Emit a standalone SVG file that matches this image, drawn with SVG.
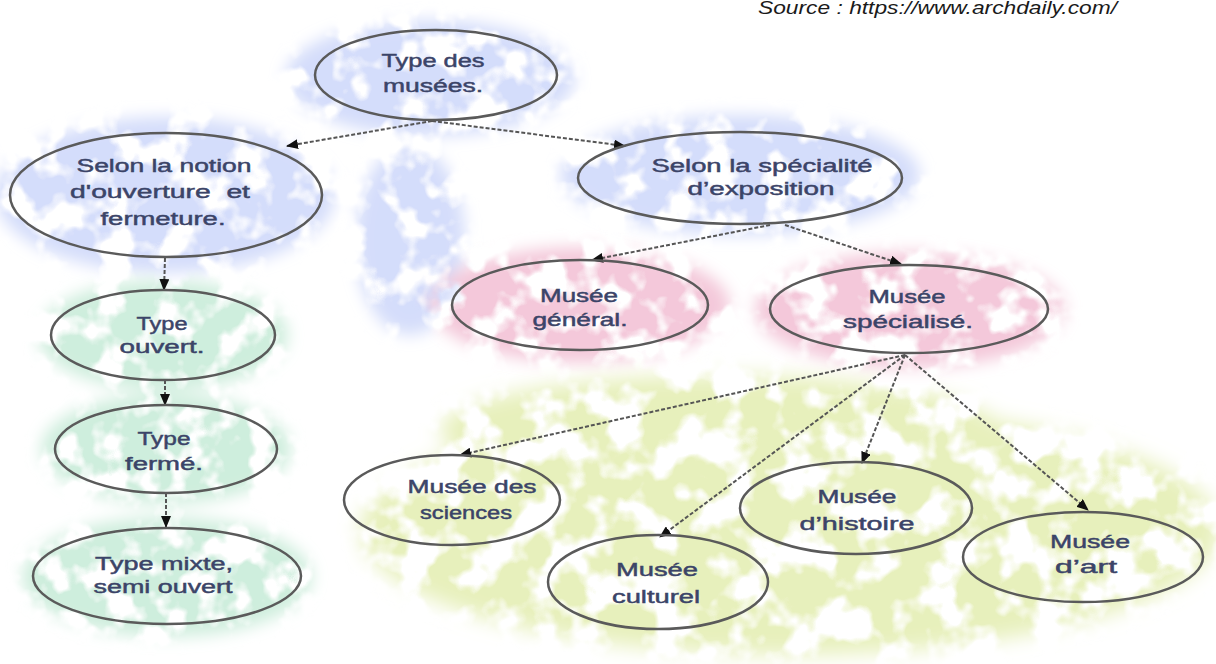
<svg xmlns="http://www.w3.org/2000/svg" width="1216" height="664" viewBox="0 0 1216 664">
<style>
.node{fill:none;stroke:#5a5a5a;stroke-width:2.5}
.t{font-family:"Liberation Sans",Arial,sans-serif;font-size:18px;fill:#3b4468;stroke:#3b4468;stroke-width:0.45;text-anchor:middle}
.c{fill:none;stroke:#555;stroke-width:2;stroke-dasharray:4 2;marker-end:url(#ah)}
.src{font-family:"Liberation Sans",Arial,sans-serif;font-size:18px;font-style:italic;fill:#1a1a1a}
</style>
<defs>
<marker id="ah" markerUnits="userSpaceOnUse" markerWidth="12" markerHeight="10" refX="11" refY="5" orient="auto">
<path d="M0,0 L12,5 L0,10 z" fill="#111"/>
</marker>
<filter id="fb" filterUnits="userSpaceOnUse" x="0" y="0" width="1216" height="664">
<feGaussianBlur in="SourceGraphic" stdDeviation="8" result="s"/>
<feTurbulence type="fractalNoise" baseFrequency="0.03" numOctaves="3" seed="4" result="n"/>
<feColorMatrix in="n" type="matrix" values="0 0 0 0 0.66  0 0 0 0 0.72  0 0 0 0 0.96  6 0 0 0 -2.2" result="c"/>
<feComposite in="c" in2="s" operator="in"/>
</filter>
<filter id="fp" filterUnits="userSpaceOnUse" x="0" y="0" width="1216" height="664">
<feGaussianBlur in="SourceGraphic" stdDeviation="8" result="s"/>
<feTurbulence type="fractalNoise" baseFrequency="0.03" numOctaves="3" seed="7" result="n"/>
<feColorMatrix in="n" type="matrix" values="0 0 0 0 0.90  0 0 0 0 0.58  0 0 0 0 0.70  6 0 0 0 -2.2" result="c"/>
<feComposite in="c" in2="s" operator="in"/>
</filter>
<filter id="fm" filterUnits="userSpaceOnUse" x="0" y="0" width="1216" height="664">
<feGaussianBlur in="SourceGraphic" stdDeviation="8" result="s"/>
<feTurbulence type="fractalNoise" baseFrequency="0.032" numOctaves="3" seed="9" result="n"/>
<feColorMatrix in="n" type="matrix" values="0 0 0 0 0.62  0 0 0 0 0.85  0 0 0 0 0.72  6 0 0 0 -2.2" result="c"/>
<feComposite in="c" in2="s" operator="in"/>
</filter>
<filter id="fy" filterUnits="userSpaceOnUse" x="0" y="0" width="1216" height="664">
<feGaussianBlur in="SourceGraphic" stdDeviation="10" result="s"/>
<feTurbulence type="fractalNoise" baseFrequency="0.028" numOctaves="3" seed="12" result="n"/>
<feColorMatrix in="n" type="matrix" values="0 0 0 0 0.80  0 0 0 0 0.87  0 0 0 0 0.50  6 0 0 0 -2.3" result="c"/>
<feComposite in="c" in2="s" operator="in"/>
</filter>
</defs>
<rect width="1216" height="664" fill="#fff"/>
<g id="texture">
<g filter="url(#fb)" fill="#fff">
<ellipse cx="430" cy="78" rx="145" ry="58"/>
<ellipse cx="165" cy="195" rx="170" ry="78"/>
<ellipse cx="740" cy="175" rx="180" ry="60"/>
<ellipse cx="410" cy="240" rx="55" ry="95"/>
</g>
<g filter="url(#fp)" fill="#fff">
<ellipse cx="580" cy="305" rx="150" ry="58"/>
<ellipse cx="910" cy="310" rx="155" ry="58"/>
</g>
<g filter="url(#fm)" fill="#fff">
<ellipse cx="163" cy="335" rx="125" ry="55"/>
<ellipse cx="166" cy="449" rx="125" ry="55"/>
<ellipse cx="167" cy="577" rx="145" ry="60"/>
</g>
<g filter="url(#fy)" fill="#fff">
<ellipse cx="790" cy="530" rx="430" ry="125"/>
<ellipse cx="720" cy="430" rx="280" ry="55"/>
</g>
</g>
<g id="connectors">
<line class="c" x1="432" y1="121" x2="287" y2="146"/>
<line class="c" x1="432" y1="121" x2="625" y2="146"/>
<line class="c" x1="165" y1="258" x2="164" y2="290"/>
<line class="c" x1="165" y1="380" x2="165" y2="405"/>
<line class="c" x1="166" y1="493" x2="166" y2="527"/>
<line class="c" x1="770" y1="225" x2="592" y2="260"/>
<line class="c" x1="785" y1="225" x2="901" y2="264"/>
<line class="c" x1="905" y1="355" x2="460" y2="455"/>
<line class="c" x1="905" y1="355" x2="660" y2="537"/>
<line class="c" x1="905" y1="355" x2="862" y2="463"/>
<line class="c" x1="905" y1="355" x2="1088" y2="510"/>
</g>
<g id="n-type-des-musees">
<ellipse class="node" cx="436" cy="75" rx="121" ry="45"/>
<text class="t" x="433" y="67" textLength="103" lengthAdjust="spacingAndGlyphs">Type des</text>
<text class="t" x="433" y="92" textLength="100" lengthAdjust="spacingAndGlyphs">musées.</text>
</g>
<g id="n-selon-notion">
<ellipse class="node" cx="166" cy="195" rx="156" ry="62"/>
<text class="t" x="164" y="172" textLength="175" lengthAdjust="spacingAndGlyphs">Selon la notion</text>
<text class="t" x="160" y="198" xml:space="preserve" textLength="180" lengthAdjust="spacingAndGlyphs">d'ouverture  et</text>
<text class="t" x="163" y="225" textLength="125" lengthAdjust="spacingAndGlyphs">fermeture.</text>
</g>
<g id="n-selon-specialite">
<ellipse class="node" cx="740" cy="178" rx="162" ry="46"/>
<text class="t" x="762" y="172" textLength="221" lengthAdjust="spacingAndGlyphs">Selon la spécialité</text>
<text class="t" x="761" y="195" textLength="147" lengthAdjust="spacingAndGlyphs">d’exposition</text>
</g>
<g id="n-musee-general">
<ellipse class="node" cx="580" cy="305" rx="128" ry="45"/>
<text class="t" x="579" y="302" textLength="78" lengthAdjust="spacingAndGlyphs">Musée</text>
<text class="t" x="580" y="326" textLength="95" lengthAdjust="spacingAndGlyphs">général.</text>
</g>
<g id="n-musee-specialise">
<ellipse class="node" cx="909" cy="309" rx="139" ry="44"/>
<text class="t" x="907" y="303" textLength="77" lengthAdjust="spacingAndGlyphs">Musée</text>
<text class="t" x="908" y="328" textLength="130" lengthAdjust="spacingAndGlyphs">spécialisé.</text>
</g>
<g id="n-type-ouvert">
<ellipse class="node" cx="163" cy="335" rx="112" ry="45"/>
<text class="t" x="162" y="330" textLength="51" lengthAdjust="spacingAndGlyphs">Type</text>
<text class="t" x="162" y="353" textLength="85" lengthAdjust="spacingAndGlyphs">ouvert.</text>
</g>
<g id="n-type-ferme">
<ellipse class="node" cx="166" cy="449" rx="111" ry="44"/>
<text class="t" x="164" y="445" textLength="53" lengthAdjust="spacingAndGlyphs">Type</text>
<text class="t" x="164" y="470" textLength="78" lengthAdjust="spacingAndGlyphs">fermé.</text>
</g>
<g id="n-type-mixte">
<ellipse class="node" cx="167" cy="576" rx="134" ry="48"/>
<text class="t" x="164" y="570" textLength="138" lengthAdjust="spacingAndGlyphs">Type mixte,</text>
<text class="t" x="163" y="593" textLength="139" lengthAdjust="spacingAndGlyphs">semi ouvert</text>
</g>
<g id="n-musee-sciences">
<ellipse class="node" cx="452" cy="500" rx="108" ry="45"/>
<text class="t" x="472" y="493" textLength="129" lengthAdjust="spacingAndGlyphs">Musée des</text>
<text class="t" x="466" y="519" textLength="92" lengthAdjust="spacingAndGlyphs">sciences</text>
</g>
<g id="n-musee-culturel">
<ellipse class="node" cx="658" cy="582" rx="110" ry="47"/>
<text class="t" x="657" y="576" textLength="82" lengthAdjust="spacingAndGlyphs">Musée</text>
<text class="t" x="656" y="603" textLength="88" lengthAdjust="spacingAndGlyphs">culturel</text>
</g>
<g id="n-musee-histoire">
<ellipse class="node" cx="856" cy="508" rx="116" ry="46"/>
<text class="t" x="857" y="503" textLength="79" lengthAdjust="spacingAndGlyphs">Musée</text>
<text class="t" x="857" y="530" textLength="115" lengthAdjust="spacingAndGlyphs">d’histoire</text>
</g>
<g id="n-musee-art">
<ellipse class="node" cx="1083" cy="557" rx="120" ry="45"/>
<text class="t" x="1090" y="548" textLength="80" lengthAdjust="spacingAndGlyphs">Musée</text>
<text class="t" x="1086" y="573" textLength="62" lengthAdjust="spacingAndGlyphs">d’art</text>
</g>
<text class="src" x="758" y="14" textLength="359" lengthAdjust="spacingAndGlyphs">Source : https://www.archdaily.com/</text>
</svg>
